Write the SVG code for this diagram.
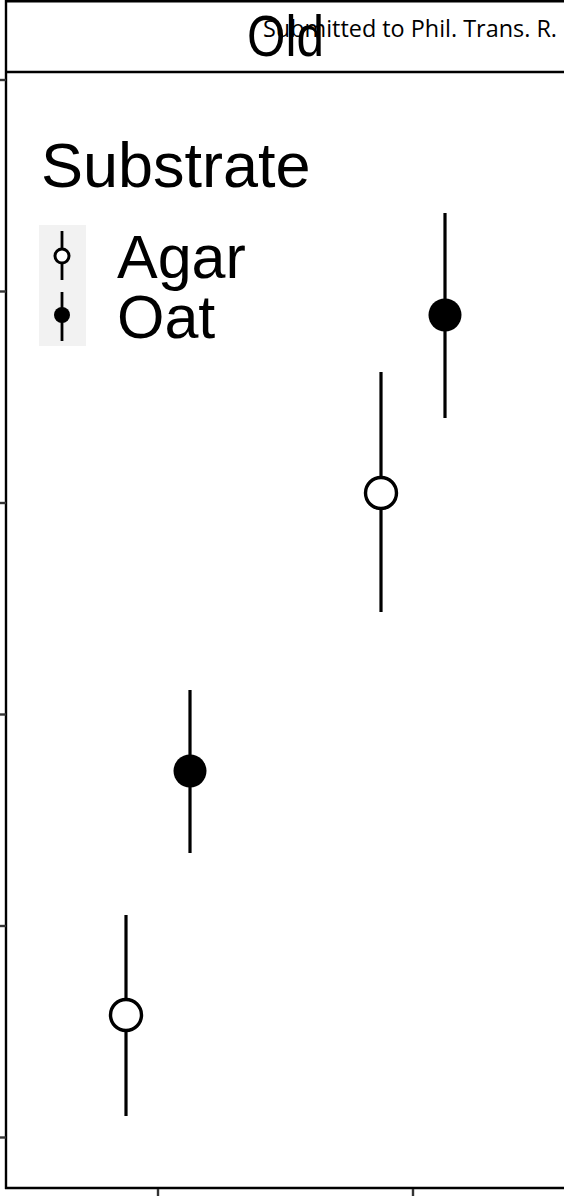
<svg xmlns="http://www.w3.org/2000/svg" width="564" height="1196" viewBox="0 0 564 1196">
  <style>
    .frame { stroke: #000; stroke-width: 2.4; fill: none; }
    .tick { stroke: #333; stroke-width: 2.4; }
    .bar { stroke: #000; stroke-width: 3.2; }
    .open { fill: #fff; stroke: #000; stroke-width: 3.4; }
    .filled { fill: #000; stroke: none; }
    .lbar { stroke: #000; stroke-width: 2.8; }
    .lopen { fill: #fff; stroke: #000; stroke-width: 3; }
    .sans { font-family: "Liberation Sans", Arial, sans-serif; fill: #000; }
  </style>
  <rect width="564" height="1196" fill="#fff"/>

  <g id="strip">
    <line class="frame" x1="5" y1="1.2" x2="564" y2="1.2"/>
    <line class="frame" x1="5" y1="72" x2="564" y2="72"/>
    <text class="sans" x="247" y="56" font-size="57" fill="#1a1a1a" textLength="77" lengthAdjust="spacingAndGlyphs">Old</text>
  </g>

  <g id="header">
    <text x="263" y="37" font-family="'Open Sans', 'Noto Sans', sans-serif" font-size="23" font-weight="500" fill="#000" textLength="294" lengthAdjust="spacingAndGlyphs">Submitted to Phil. Trans. R.</text>
  </g>

  <g id="axes">
    <line class="frame" x1="6" y1="0" x2="6" y2="1189"/>
    <line class="frame" x1="5" y1="1188" x2="564" y2="1188"/>
    <line class="tick" x1="0" y1="80" x2="6" y2="80"/>
    <line class="tick" x1="0" y1="291.5" x2="6" y2="291.5"/>
    <line class="tick" x1="0" y1="503" x2="6" y2="503"/>
    <line class="tick" x1="0" y1="714.5" x2="6" y2="714.5"/>
    <line class="tick" x1="0" y1="926" x2="6" y2="926"/>
    <line class="tick" x1="0" y1="1137.5" x2="6" y2="1137.5"/>
    <line class="tick" x1="158" y1="1189" x2="158" y2="1196"/>
    <line class="tick" x1="413" y1="1189" x2="413" y2="1196"/>
  </g>

  <g id="legend">
    <text class="sans" x="41" y="187" font-size="63">Substrate</text>
    <rect x="39" y="225" width="47" height="121" fill="#f2f2f2"/>
    <g id="legend-agar">
      <line class="lbar" x1="62" y1="231" x2="62" y2="280"/>
      <circle class="lopen" cx="62" cy="256" r="7"/>
      <text class="sans" x="117" y="278" font-size="61">Agar</text>
    </g>
    <g id="legend-oat">
      <line class="lbar" x1="62" y1="292" x2="62" y2="341"/>
      <circle class="filled" cx="62" cy="315" r="8"/>
      <text class="sans" x="117" y="338" font-size="61">Oat</text>
    </g>
  </g>

  <g id="point-agar-1">
    <line class="bar" x1="126" y1="915" x2="126" y2="1116"/>
    <circle class="open" cx="126" cy="1015" r="15.5"/>
  </g>
  <g id="point-oat-1">
    <line class="bar" x1="190" y1="690" x2="190" y2="853"/>
    <circle class="filled" cx="190" cy="771" r="16.5"/>
  </g>
  <g id="point-agar-2">
    <line class="bar" x1="381" y1="372" x2="381" y2="612"/>
    <circle class="open" cx="381" cy="493" r="15.5"/>
  </g>
  <g id="point-oat-2">
    <line class="bar" x1="445" y1="213" x2="445" y2="418"/>
    <circle class="filled" cx="445" cy="315" r="16.5"/>
  </g>
</svg>
